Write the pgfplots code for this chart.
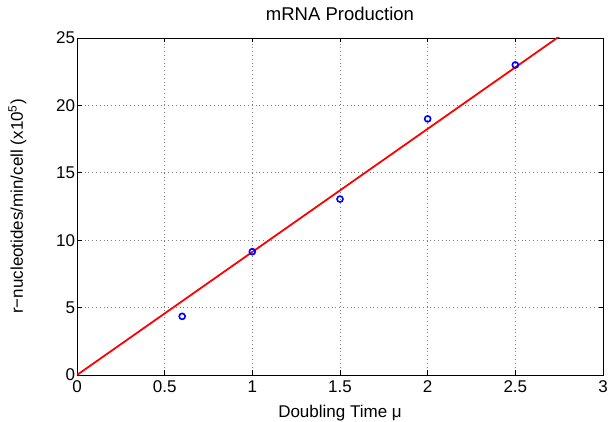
\documentclass[border=0pt]{standalone}
\usepackage{fontspec}
\setmainfont{Liberation Sans}
\usepackage{pgfplots}
\pgfplotsset{compat=1.18}

\begin{document}
\begin{tikzpicture}
\path[use as bounding box] (-77pt,-47pt) rectangle (534pt,375pt);
\begin{axis}[
    at={(0,0)}, anchor=south west,
    scale only axis,
    width=526pt, height=337pt,
    xmin=0, xmax=3, ymin=0, ymax=25,
    xtick={0,0.5,...,3},
    ytick={0,5,...,25},
    tick align=inside,
    major tick length=4.5pt,
    tick style={black, line width=0.6pt},
    axis line style={line width=0.9pt},
    grid=major,
    major grid style={black!50, dash pattern=on 0.8pt off 3pt, line width=0.7pt},
    /pgf/number format/assume math mode=true,
    ticklabel style={font=\fontsize{17}{19}\selectfont},
    xticklabel style={yshift=-2.5pt},
    yticklabel style={xshift=1.5pt},
    title={mRNA Production},
    title style={font=\fontsize{18.5}{21}\selectfont,
        at={(axis description cs:0.5,1)}, anchor=base, yshift=11pt},
    xlabel={Doubling Time μ},
    ylabel={r−nucleotides/min/cell (x10\textsuperscript{5})},
    label style={font=\fontsize{17}{19}\selectfont},
    xlabel style={at={(axis description cs:0.5,0)}, anchor=base, yshift=-43pt},
    ylabel style={at={(axis description cs:0,0.5)}, anchor=base, yshift=54pt},
    clip=true,
]
\addplot[red, line width=1.8pt] coordinates {(0,0) (3,27.39)};
\addplot[only marks, mark=o, blue, mark size=3pt, line width=1.6pt] coordinates {
    (0.6,4.35)
    (1.0,9.15)
    (1.5,13.05)
    (2.0,19.0)
    (2.5,23.0)
};
\end{axis}
\end{tikzpicture}
\end{document}
